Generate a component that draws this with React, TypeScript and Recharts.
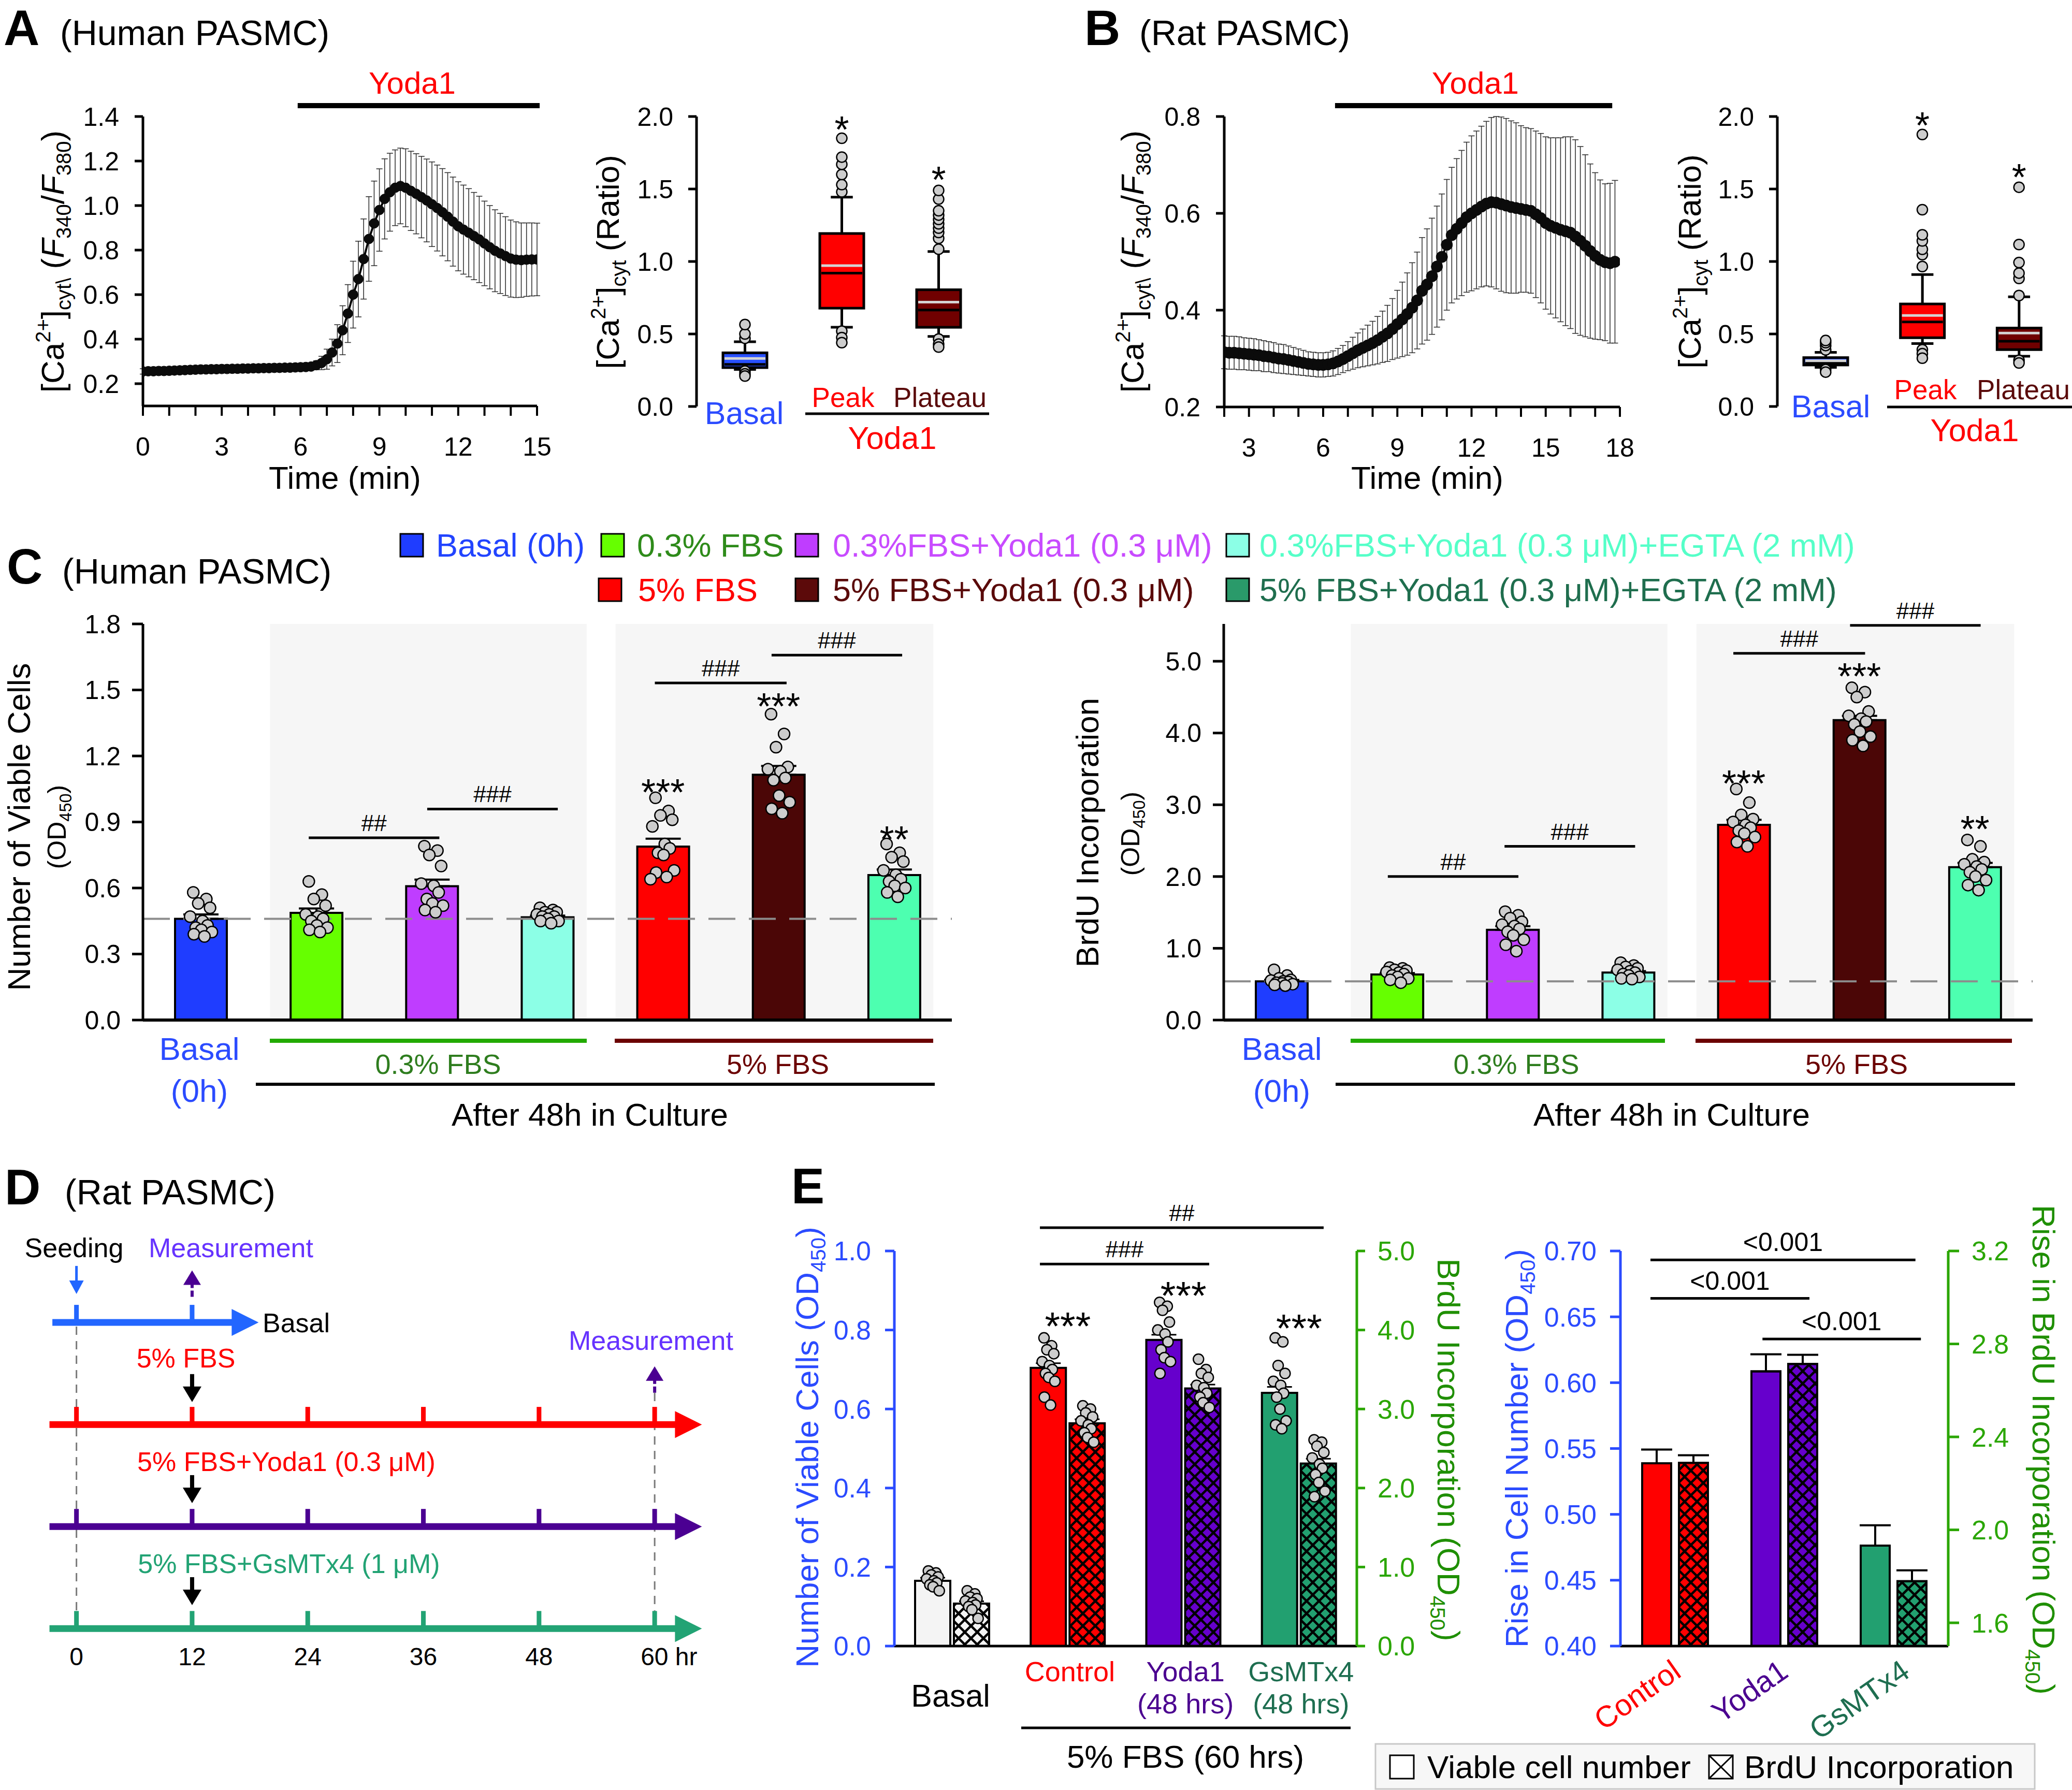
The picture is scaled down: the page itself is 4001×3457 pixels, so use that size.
import React from "react";
import {
  ComposedChart,
  Bar,
  Line,
  Scatter,
  XAxis,
  YAxis,
  ErrorBar,
  Cell,
  ReferenceLine,
  ReferenceArea,
  ReferenceDot,
} from "recharts";

const FONT = "'Liberation Sans', Arial, Helvetica, sans-serif";
const TICK = 50;
const RED = "#ff0000";
const BLUE = "#2b4bff";
const GREEN = "#2aa600";

// ---------------- A / B : Ca2+ traces ----------------
const stepA = 0.2;
const traceA = [
  0.255, 0.256, 0.256, 0.257, 0.257, 0.258, 0.259, 0.26, 0.261, 0.262, 0.263, 0.264, 0.264, 0.265, 0.265, 0.266,
  0.266, 0.267, 0.267, 0.268, 0.268, 0.269, 0.269, 0.27, 0.27, 0.271, 0.271, 0.272, 0.272, 0.273, 0.274, 0.275,
  0.277, 0.283, 0.293, 0.31, 0.34, 0.38, 0.44, 0.515, 0.6, 0.67, 0.76, 0.85, 0.92, 0.98, 1.03, 1.06, 1.08, 1.088,
  1.08, 1.066, 1.053, 1.038, 1.023, 1.006, 0.989, 0.97, 0.95, 0.928, 0.907, 0.892, 0.878, 0.863, 0.848, 0.83,
  0.813, 0.797, 0.785, 0.773, 0.762, 0.757, 0.755, 0.757, 0.758, 0.758,
];
const semA = [
  0.012, 0.012, 0.012, 0.012, 0.012, 0.012, 0.012, 0.012, 0.012, 0.012, 0.012, 0.012, 0.012, 0.012, 0.012, 0.012,
  0.012, 0.012, 0.012, 0.012, 0.012, 0.012, 0.012, 0.012, 0.012, 0.012, 0.012, 0.012, 0.012, 0.012, 0.012, 0.012,
  0.015, 0.02, 0.03, 0.045, 0.06, 0.085, 0.11, 0.13, 0.15, 0.17, 0.18, 0.19, 0.19, 0.185, 0.18, 0.175, 0.17, 0.17,
  0.175, 0.178, 0.18, 0.183, 0.186, 0.19, 0.193, 0.196, 0.198, 0.2, 0.2, 0.2, 0.198, 0.196, 0.194, 0.19, 0.187,
  0.184, 0.18, 0.177, 0.173, 0.17, 0.167, 0.165, 0.164, 0.163,
];
const startB = 2.0;
const stepB = 0.2;
const traceB = [
  0.313, 0.312, 0.312, 0.311, 0.31, 0.309, 0.308, 0.307, 0.305, 0.304,
  0.302, 0.3, 0.299, 0.297, 0.295, 0.293, 0.291, 0.289, 0.288, 0.287,
  0.287, 0.288, 0.29, 0.294, 0.299, 0.305, 0.311, 0.317, 0.322, 0.327,
  0.332, 0.338, 0.345, 0.352, 0.361, 0.371, 0.381, 0.392, 0.405, 0.42,
  0.44, 0.453, 0.47, 0.49, 0.51, 0.535, 0.555, 0.568, 0.58, 0.592,
  0.6, 0.607, 0.614, 0.62, 0.623, 0.622, 0.619, 0.616, 0.613, 0.611,
  0.609, 0.607, 0.605, 0.598, 0.59, 0.58, 0.574, 0.57, 0.566, 0.563,
  0.56, 0.552, 0.543, 0.533, 0.522, 0.512, 0.504, 0.499, 0.497, 0.5,
];
const semB = [
  0.034, 0.034, 0.034, 0.034, 0.033, 0.033, 0.033, 0.032, 0.032, 0.031,
  0.031, 0.03, 0.03, 0.029, 0.028, 0.027, 0.026, 0.025, 0.025, 0.025,
  0.025, 0.025, 0.026, 0.027, 0.028, 0.03, 0.033, 0.036, 0.039, 0.042,
  0.045, 0.049, 0.053, 0.058, 0.063, 0.07, 0.077, 0.085, 0.093, 0.1,
  0.11, 0.115, 0.12, 0.125, 0.13, 0.135, 0.14, 0.145, 0.15, 0.155,
  0.16, 0.163, 0.166, 0.17, 0.175, 0.178, 0.18, 0.18, 0.178, 0.176,
  0.172, 0.17, 0.17, 0.172, 0.175, 0.178, 0.182, 0.186, 0.19, 0.195,
  0.198, 0.2, 0.195, 0.188, 0.18, 0.172, 0.165, 0.162, 0.165, 0.168,
];
const ticksA = [0, 1, 2, 3, 4, 5, 6, 7, 8, 9, 10, 11, 12, 13, 14, 15];
const ticksB = [2, 3, 4, 5, 6, 7, 8, 9, 10, 11, 12, 13, 14, 15, 16, 17, 18];

// ---------------- A / B : box plots ----------------
const boxCats = ["Basal", "Peak", "Plateau"];
const boxColors = ["#2850ff", "#ff0000", "#700000"];
const boxALo = [0.255, 0.546, 0.483];
const boxAQ1 = [0.268, 0.678, 0.546];
const boxAMed = [0.29, 0.92, 0.665];
const boxAMean = [0.331, 0.971, 0.72];
const boxAQ3 = [0.37, 1.193, 0.805];
const boxAHi = [0.446, 1.444, 1.069];
const outA = [
  [0.47, 0.5, 0.565, 0.245, 0.225, 0.21],
  [1.48, 1.53, 1.6, 1.67, 1.72, 1.85, 0.52, 0.475, 0.44],
  [1.085, 1.16, 1.2, 1.23, 1.26, 1.29, 1.32, 1.35, 1.43, 1.49, 0.465, 0.43, 0.41],
];
const starsAIdx = [1, 2];
const starsAVal = [1.968, 1.62];
const boxBLo = [0.27, 0.434, 0.346];
const boxBQ1 = [0.286, 0.474, 0.392];
const boxBMed = [0.3, 0.583, 0.45];
const boxBMean = [0.315, 0.628, 0.506];
const boxBQ3 = [0.337, 0.707, 0.541];
const boxBHi = [0.373, 0.91, 0.756];
const outB = [
  [0.39, 0.42, 0.44, 0.455, 0.255, 0.237],
  [0.965, 1.047, 1.084, 1.142, 1.184, 1.357, 1.876, 0.392, 0.364, 0.333],
  [0.765, 0.883, 0.92, 0.993, 1.117, 1.512, 0.319, 0.3],
];
const starsBIdx = [1, 2];
const starsBVal = [1.995, 1.64];

// ---------------- C : viability / BrdU ----------------
const catsC = [
  "Basal (0h)",
  "0.3% FBS",
  "0.3%FBS+Yoda1 (0.3 μM)",
  "0.3%FBS+Yoda1 (0.3 μM)+EGTA (2 mM)",
  "5% FBS",
  "5% FBS+Yoda1 (0.3 μM)",
  "5% FBS+Yoda1 (0.3 μM)+EGTA (2 mM)",
];
const colorsC = ["#1f3dff", "#66ff00", "#bf3dff", "#8cffe6", "#ff0000", "#4b0606", "#4dffb0"];
const legendSq = ["#1f3dff", "#66ff00", "#bf3dff", "#8cffe6", "#ff0000", "#5c0a0a", "#2a9a6a"];
const legendTx = ["#2244ff", "#2e8b1a", "#c84bff", "#55ffc8", "#ff0000", "#5a0a0a", "#1f6e4e"];
const meansCL = [0.46, 0.487, 0.608, 0.467, 0.788, 1.115, 0.659];
const semCL = [0.02, 0.02, 0.03, 0.008, 0.036, 0.04, 0.025];
const dotsCL = [
  [0.58, 0.55, 0.53, 0.51, 0.47, 0.45, 0.43, 0.42, 0.41, 0.4, 0.39, 0.38],
  [0.63, 0.57, 0.55, 0.52, 0.48, 0.47, 0.46, 0.45, 0.43, 0.42, 0.41, 0.4],
  [0.79, 0.77, 0.75, 0.7, 0.62, 0.61, 0.58, 0.55, 0.53, 0.52, 0.5, 0.49],
  [0.51, 0.5, 0.49, 0.49, 0.48, 0.48, 0.47, 0.47, 0.46, 0.45, 0.45, 0.44],
  [1.01, 0.95, 0.93, 0.91, 0.88, 0.8, 0.78, 0.76, 0.75, 0.68, 0.67, 0.65, 0.64],
  [1.39, 1.3, 1.24, 1.15, 1.14, 1.13, 1.1, 1.09, 1.02, 0.99, 0.96, 0.94],
  [0.8, 0.76, 0.74, 0.72, 0.68, 0.66, 0.64, 0.63, 0.61, 0.6, 0.58, 0.56],
];
const sigCL = [
  { x1: 1.435, x2: 2.565, y: 0.828, t: "##" },
  { x1: 2.46, x2: 3.59, y: 0.959, t: "###" },
  { x1: 4.43, x2: 5.57, y: 1.532, t: "###" },
  { x1: 5.44, x2: 6.57, y: 1.658, t: "###" },
];
const starsCLIdx = [4, 5, 6];
const starsCLVal = [1.073, 1.463, 0.86];
const starsCTxt = ["***", "***", "**"];
const meansCR = [0.54, 0.635, 1.258, 0.662, 2.72, 4.18, 2.13];
const semCR = [0.02, 0.02, 0.05, 0.02, 0.07, 0.06, 0.06];
const dotsCR = [
  [0.7, 0.62, 0.58, 0.56, 0.55, 0.54, 0.53, 0.52, 0.51, 0.5, 0.49, 0.48],
  [0.73, 0.72, 0.7, 0.69, 0.67, 0.66, 0.64, 0.62, 0.6, 0.58, 0.56, 0.52],
  [1.51, 1.46, 1.42, 1.37, 1.33, 1.31, 1.27, 1.23, 1.18, 1.12, 1.05, 0.96],
  [0.8, 0.76, 0.74, 0.72, 0.7, 0.68, 0.66, 0.64, 0.62, 0.6, 0.58, 0.57],
  [3.22, 3.03, 2.86, 2.8, 2.76, 2.72, 2.68, 2.64, 2.6, 2.55, 2.48, 2.42],
  [4.63, 4.57, 4.5, 4.3, 4.24, 4.2, 4.16, 4.12, 4.02, 3.95, 3.9, 3.82],
  [2.51, 2.42, 2.24, 2.2, 2.17, 2.14, 2.1, 2.06, 2.0, 1.95, 1.88, 1.81],
];
const sigCR = [
  { x1: 1.42, x2: 2.55, y: 2.0, t: "##" },
  { x1: 2.43, x2: 3.56, y: 2.42, t: "###" },
  { x1: 4.41, x2: 5.55, y: 5.11, t: "###" },
  { x1: 5.42, x2: 6.55, y: 5.5, t: "###" },
];
const starsCRIdx = [4, 5, 6];
const starsCRVal = [3.41, 4.91, 2.78];

// ---------------- D : protocol timeline ----------------
const dHours = [0, 12, 24, 36, 48, 60];
const dRows = ["Basal", "5% FBS", "5% FBS+Yoda1 (0.3 μM)", "5% FBS+GsMTx4 (1 μM)"];
const dColors = ["#2266ff", "#ff0000", "#4b0092", "#22a374"];
const dLevel = [4, 3, 2, 1];
const dStart = [-2.5, -2.8, -2.8, -2.8];
const dEnd = [18.15, 64.15, 64.15, 64.15];
const dTicks = [[0, 12], dHours, dHours, dHours];
const dDashT = [0, 60];
const dDashTop = [3.96, 3.31];
const dTreatLevel = [3.22, 2.23, 1.23];
const dSeed = { t: 0, y: 4.28 };
const dMeasT = [12, 60];
const dMeasY = [4.51, 3.57];

// ---------------- E : 5% FBS 60 hrs ----------------
const eCats = ["Basal", "Control", "Yoda1", "GsMTx4"];
const eFill = ["#f4f4f4", "#ff0000", "#6600cc", "#22a070"];
const eViable = [0.165, 0.704, 0.775, 0.641];
const eViableSem = [0.008, 0.012, 0.013, 0.015];
const eBrdU = [0.537, 2.82, 3.26, 2.31];
const eBrdUSem = [0.03, 0.05, 0.05, 0.06];
const eDotsV = [
  [0.19, 0.185, 0.18, 0.175, 0.17, 0.165, 0.16, 0.155, 0.15, 0.14],
  [0.78, 0.76, 0.75, 0.74, 0.72, 0.71, 0.7, 0.69, 0.68, 0.67, 0.63, 0.61],
  [0.87, 0.86, 0.85, 0.82, 0.8, 0.79, 0.77, 0.75, 0.73, 0.72, 0.69],
  [0.78, 0.77, 0.71, 0.69, 0.67, 0.66, 0.64, 0.63, 0.6, 0.57, 0.56, 0.55],
];
const eDotsB = [
  [0.7, 0.66, 0.62, 0.6, 0.57, 0.55, 0.52, 0.5, 0.46, 0.35],
  [3.04, 3.0, 2.95, 2.9, 2.85, 2.8, 2.75, 2.7, 2.64, 2.58],
  [3.63, 3.5, 3.45, 3.4, 3.3, 3.27, 3.2, 3.15, 3.08, 3.02],
  [2.61, 2.58, 2.53, 2.45, 2.38, 2.3, 2.25, 2.17, 2.07, 1.96, 1.89],
];
const sigE = [
  { x1: 1.259, x2: 3.713, y: 1.059, t: "##" },
  { x1: 1.259, x2: 2.723, y: 0.967, t: "###" },
];
const starsEIdx = [1, 2, 3];
const starsEVal = [0.834, 0.911, 0.828];
const riseCats = ["Control", "Yoda1", "GsMTx4"];
const riseColors = ["#ff0000", "#6600cc", "#22a070"];
const riseTxt = ["#ff0000", "#4b0090", "#1e6e50"];
const riseViable = [0.5388, 0.6086, 0.4763];
const riseViableSem = [0.0104, 0.013, 0.0154];
const riseBrdU = [2.288, 2.714, 1.779];
const riseBrdUSem = [0.033, 0.039, 0.047];
const sigRise = [
  { x1: 0.275, x2: 2.7, y: 0.6932, t: "<0.001" },
  { x1: 0.275, x2: 1.73, y: 0.664, t: "<0.001" },
  { x1: 1.3, x2: 2.75, y: 0.6332, t: "<0.001" },
];

// ---------------- helpers ----------------
type Frame = { l: number; t: number; r: number; b: number; yw?: number; yrw?: number; xh?: number; pad?: number };
const place = ({ l, t, r, b, yw = 0, yrw = 0, xh = 0, pad = 90 }: Frame) => ({
  style: { position: "absolute" as const, left: l - yw - pad, top: t - pad },
  width: r - l + yw + yrw + 2 * pad,
  height: b - t + xh + 2 * pad,
  margin: { top: pad, right: pad, bottom: pad, left: pad },
});

const JIT = [-0.6, 0.45, -0.2, 0.75, -0.85, 0.15, 0.55, -0.4, 0.05, 0.9, -0.55, 0.3, -1];

const dotShape = (dx: number, spread: number, r: number) => (p: any) => (
  <circle
    cx={p.cx + dx + JIT[(p.payload?.j ?? 0) % JIT.length] * spread}
    cy={p.cy}
    r={r}
    fill="#cdcdcd"
    stroke="#000"
    strokeWidth={2.5}
  />
);

const lab = (s: string, size: number, dy: number, fill = "#000") => (p: any) => (
  <text x={p.cx} y={p.cy + dy} textAnchor="middle" fontSize={size} fill={fill} fontFamily={FONT}>
    {s}
  </text>
);

const yAx = (color: string, size: number, margin: number, font = TICK) => ({
  type: "number" as const,
  axisLine: { stroke: color, strokeWidth: 5 },
  tickLine: { stroke: color, strokeWidth: 5 },
  tick: { fontSize: font, fill: color, fontFamily: FONT },
  tickSize: size,
  tickMargin: margin,
  interval: 0 as const,
  allowDataOverflow: true,
});

const HatchDefs = () => (
  <svg width={0} height={0} style={{ position: "absolute" }}>
    <defs>
      {eFill.map((c, i) => (
        <pattern key={i} id={`hatch${i}`} patternUnits="userSpaceOnUse" width={24} height={24}>
          <rect width={24} height={24} fill={c} />
          <path d="M-6,-6 L30,30 M30,-6 L-6,30" stroke="#000" strokeWidth={4.5} />
        </pattern>
      ))}
    </defs>
  </svg>
);

// significance bracket: horizontal segment plus its label
// (an empty scatter of the bracket mid points keeps the hidden numeric axis registered)
const sigEls = (sigs: any[], yid: any, size: number, dy: number, lw = 5) => [
  <Scatter
    key="sigmid"
    xAxisId="n"
    yAxisId={yid}
    data={sigs.map((s) => ({ xn: (s.x1 + s.x2) / 2, v: s.y }))}
    dataKey="v"
    isAnimationActive={false}
    shape={() => <g />}
  />,
  ...sigs.map((s, i) => (
    <ReferenceLine
      key={`l${i}`}
      xAxisId="n"
      yAxisId={yid}
      segment={[
        { x: s.x1, y: s.y },
        { x: s.x2, y: s.y },
      ]}
      stroke="#000"
      strokeWidth={lw}
      ifOverflow="visible"
    />
  )),
  ...sigs.map((s, i) => (
    <ReferenceDot
      key={`d${i}`}
      xAxisId="n"
      yAxisId={yid}
      x={(s.x1 + s.x2) / 2}
      y={s.y}
      ifOverflow="visible"
      shape={lab(s.t, size, dy)}
    />
  )),
];

// ---------------- charts ----------------
function Trace({ values, sems, start, step, frame, xDomain, xTicks, yDomain, yTicks, bar, r }: any) {
  const f = place(frame);
  const data = values.map((v: number, i: number) => ({ t: +(start + i * step).toFixed(2), v, e: sems[i] }));
  return (
    <div style={f.style}>
      <ComposedChart width={f.width} height={f.height} margin={f.margin} data={data}>
        <XAxis
          dataKey="t"
          type="number"
          domain={xDomain}
          ticks={xTicks}
          interval={0}
          allowDataOverflow
          height={frame.xh}
          tickFormatter={(v: number) => (v % 3 === 0 ? String(v) : "")}
          tick={{ fontSize: TICK, fill: "#000", fontFamily: FONT }}
          tickSize={19}
          tickMargin={41}
          axisLine={{ stroke: "#000", strokeWidth: 5 }}
          tickLine={{ stroke: "#000", strokeWidth: 4 }}
        />
        <YAxis
          {...yAx("#000", 16, 30)}
          domain={yDomain}
          ticks={yTicks}
          width={frame.yw}
          tickFormatter={(v: number) => v.toFixed(1)}
        />
        <ReferenceLine
          segment={[
            { x: bar.x1, y: bar.y },
            { x: bar.x2, y: bar.y },
          ]}
          stroke="#000"
          strokeWidth={10}
          ifOverflow="visible"
        />
        <Line
          type="linear"
          dataKey="v"
          stroke="#000"
          strokeWidth={4}
          dot={{ r, fill: "#0b0b0b", stroke: "#0b0b0b", strokeWidth: 1 }}
          isAnimationActive={false}
        >
          <ErrorBar dataKey="e" width={6} strokeWidth={1.6} stroke="#333" direction="y" />
        </Line>
      </ComposedChart>
    </div>
  );
}

const BoxShape = (p: any) => {
  const { x, y, width, height, payload, fill } = p;
  const [q1, q3] = payload.box;
  const k = height / (q3 - q1);
  const py = (v: number) => y + (q3 - v) * k;
  const cx = x + width / 2;
  const cw = width * 0.5;
  return (
    <g>
      <line x1={cx} x2={cx} y1={py(payload.hi)} y2={py(payload.lo)} stroke="#000" strokeWidth={5} />
      <line x1={cx - cw / 2} x2={cx + cw / 2} y1={py(payload.hi)} y2={py(payload.hi)} stroke="#000" strokeWidth={5} />
      <line x1={cx - cw / 2} x2={cx + cw / 2} y1={py(payload.lo)} y2={py(payload.lo)} stroke="#000" strokeWidth={5} />
      <rect x={x} y={y} width={width} height={height} fill={fill} stroke="#000" strokeWidth={5} />
      <line x1={x + 3} x2={x + width - 3} y1={py(payload.med)} y2={py(payload.med)} stroke="#000" strokeWidth={5} />
      <line x1={x + 3} x2={x + width - 3} y1={py(payload.mean)} y2={py(payload.mean)} stroke="#d4d4d4" strokeWidth={5} />
    </g>
  );
};

function BoxPlot({ frame, lo, q1, med, mean, q3, hi, outliers, starIdx, starVal }: any) {
  const f = place(frame);
  const data = boxCats.map((name, i) => ({ name, box: [q1[i], q3[i]], lo: lo[i], med: med[i], mean: mean[i], hi: hi[i] }));
  const pts = outliers.flatMap((arr: number[], i: number) => arr.map((v, j) => ({ xn: i + 0.5, v, j })));
  return (
    <div style={f.style}>
      <ComposedChart width={f.width} height={f.height} margin={f.margin} data={data}>
        <XAxis xAxisId="c" dataKey="name" type="category" hide />
        <XAxis xAxisId="n" dataKey="xn" type="number" domain={[0, 3]} hide />
        <YAxis
          {...yAx("#000", 16, 29)}
          domain={[0, 2]}
          ticks={[0, 0.5, 1, 1.5, 2]}
          width={frame.yw}
          tickFormatter={(v: number) => v.toFixed(1)}
        />
        <Bar xAxisId="c" dataKey="box" barSize={85} shape={(p: any) => <BoxShape {...p} />} isAnimationActive={false}>
          {boxColors.map((c, i) => (
            <Cell key={i} fill={c} />
          ))}
        </Bar>
        <Scatter xAxisId="n" data={pts} dataKey="v" shape={dotShape(0, 0, 10)} isAnimationActive={false} />
        {starIdx.map((c: number, i: number) => (
          <ReferenceDot key={i} xAxisId="n" x={c + 0.5} y={starVal[i]} ifOverflow="visible" shape={lab("*", 72, 41)} />
        ))}
      </ComposedChart>
    </div>
  );
}

function BarPanel({ frame, means, sems, dots, yDomain, yTicks, sigs, starIdx, starVal }: any) {
  const f = place(frame);
  const data = catsC.map((name, i) => ({ name, m: means[i], e: [0, sems[i]] }));
  const pts = dots.flatMap((arr: number[], i: number) => arr.map((v, j) => ({ xn: i + 0.5, v, j })));
  return (
    <div style={f.style}>
      <ComposedChart width={f.width} height={f.height} margin={f.margin} data={data}>
        <XAxis
          xAxisId="c"
          dataKey="name"
          type="category"
          height={frame.xh}
          tick={false}
          tickLine={false}
          axisLine={{ stroke: "#000", strokeWidth: 6 }}
        />
        <XAxis xAxisId="n" dataKey="xn" type="number" domain={[0, 7]} hide />
        <YAxis
          {...yAx("#000", 21, 22)}
          domain={yDomain}
          ticks={yTicks}
          width={frame.yw}
          tickFormatter={(v: number) => v.toFixed(1)}
        />
        <ReferenceArea xAxisId="n" x1={1.1} x2={3.84} y1={0} y2={yDomain[1]} fill="#f6f6f6" fillOpacity={1} stroke="none" ifOverflow="visible" />
        <ReferenceArea xAxisId="n" x1={4.09} x2={6.84} y1={0} y2={yDomain[1]} fill="#f6f6f6" fillOpacity={1} stroke="none" ifOverflow="visible" />
        <Bar xAxisId="c" dataKey="m" barSize={100} stroke="#000" strokeWidth={4} isAnimationActive={false}>
          {colorsC.map((c, i) => (
            <Cell key={i} fill={c} />
          ))}
          <ErrorBar dataKey="e" width={34} strokeWidth={4} stroke="#000" direction="y" />
        </Bar>
        <ReferenceLine xAxisId="n" y={means[0]} stroke="#8c8c8c" strokeWidth={4} strokeDasharray="52 26" />
        <Scatter xAxisId="n" data={pts} dataKey="v" shape={dotShape(0, 24, 11)} isAnimationActive={false} />
        {sigEls(sigs, 0, 44, -13)}
        {starIdx.map((c: number, i: number) => (
          <ReferenceDot key={i} xAxisId="n" x={c + 0.5} y={starVal[i]} ifOverflow="visible" shape={lab(starsCTxt[i], 72, 41)} />
        ))}
      </ComposedChart>
    </div>
  );
}

const DTick = (p: any) => {
  const v = p.payload.value;
  if (v === 60)
    return (
      <text x={p.x - 27} y={p.y + 34} fontSize={48} textAnchor="start" dominantBaseline="central" fill="#000">
        60 hr
      </text>
    );
  return (
    <text x={p.x} y={p.y + 34} fontSize={48} textAnchor="middle" dominantBaseline="central" fill="#000">
      {v}
    </text>
  );
};

const rowHead = (color: string) => (p: any) => (
  <polygon points={`${p.cx - 38},${p.cy - 26} ${p.cx + 14},${p.cy} ${p.cx - 38},${p.cy + 26}`} fill={color} />
);
const tickMark = (color: string) => (p: any) => <rect x={p.cx - 4.5} y={p.cy - 34} width={9} height={34} fill={color} />;
const downArrow = (color: string, shaftW: number, headL: number, headHW: number, total: number) => (p: any) => (
  <g>
    <rect x={p.cx - shaftW / 2} y={p.cy - total} width={shaftW} height={total - headL + 1} fill={color} />
    <polygon points={`${p.cx - headHW},${p.cy - headL} ${p.cx + headHW},${p.cy - headL} ${p.cx},${p.cy}`} fill={color} />
  </g>
);
const upArrow = (color: string) => (p: any) => (
  <g>
    <line x1={p.cx} x2={p.cx} y1={p.cy + 22} y2={p.cy + 54} stroke={color} strokeWidth={6} strokeDasharray="12 5" />
    <polygon points={`${p.cx - 17},${p.cy + 28} ${p.cx + 17},${p.cy + 28} ${p.cx},${p.cy}`} fill={color} />
  </g>
);

function Timeline() {
  const frame = { l: 36, t: 2357, r: 1413, b: 3165, xh: 80, pad: 60 };
  const f = place(frame);
  return (
    <div style={f.style}>
      <ComposedChart width={f.width} height={f.height} margin={f.margin}>
        <XAxis
          dataKey="t"
          type="number"
          domain={[-6, 68]}
          ticks={dHours}
          interval={0}
          height={80}
          axisLine={false}
          tickLine={false}
          tickSize={0}
          tickMargin={0}
          tick={DTick}
          allowDataOverflow
        />
        <YAxis type="number" domain={[0.9, 5]} hide allowDataOverflow />
        {dDashT.map((t, i) => (
          <ReferenceLine
            key={`dash${i}`}
            segment={[
              { x: t, y: dDashTop[i] },
              { x: t, y: 1 },
            ]}
            stroke="#7a7a7a"
            strokeWidth={3}
            strokeDasharray="16 12"
            ifOverflow="visible"
          />
        ))}
        {dRows.map((r, i) => (
          <ReferenceLine
            key={`row${i}`}
            segment={[
              { x: dStart[i], y: dLevel[i] },
              { x: dEnd[i], y: dLevel[i] },
            ]}
            stroke={dColors[i]}
            strokeWidth={13}
            ifOverflow="visible"
          />
        ))}
        {dRows.map((r, i) => (
          <Scatter
            key={`tk${i}`}
            data={dTicks[i].map((t) => ({ t, y: dLevel[i] }))}
            dataKey="y"
            shape={tickMark(dColors[i])}
            isAnimationActive={false}
          />
        ))}
        {dRows.map((r, i) => (
          <ReferenceDot key={`hd${i}`} x={dEnd[i]} y={dLevel[i]} ifOverflow="visible" shape={rowHead(dColors[i])} />
        ))}
        <ReferenceDot x={dSeed.t} y={dSeed.y} ifOverflow="visible" shape={downArrow("#2266ff", 5, 26, 14, 54)} />
        {dMeasT.map((t, i) => (
          <ReferenceDot key={`m${i}`} x={t} y={dMeasY[i]} ifOverflow="visible" shape={upArrow("#4b0092")} />
        ))}
        {dTreatLevel.map((y, i) => (
          <ReferenceDot key={`tr${i}`} x={12} y={y} ifOverflow="visible" shape={downArrow("#000", 8, 30, 18, 54)} />
        ))}
      </ComposedChart>
    </div>
  );
}

const eSub = ["", "", "(48 hrs)", "(48 hrs)"];
const eTxt = ["#000", "#ff0000", "#4b0090", "#1e6e50"];
const ETickL = (p: any) => {
  const i = p.index;
  if (i === 0)
    return (
      <text x={p.x - 3} y={p.y + 96} fontSize={61} textAnchor="middle" dominantBaseline="central" fill="#000">
        {p.payload.value}
      </text>
    );
  return (
    <g>
      <text x={p.x + 4} y={p.y + 49} fontSize={54} textAnchor="middle" dominantBaseline="central" fill={eTxt[i]}>
        {p.payload.value}
      </text>
      {eSub[i] && (
        <text x={p.x + 4} y={p.y + 111} fontSize={54} textAnchor="middle" dominantBaseline="central" fill={eTxt[i]}>
          {eSub[i]}
        </text>
      )}
    </g>
  );
};

function ECells() {
  const frame = { l: 1727, t: 2416, r: 2620, b: 3179, yw: 120, yrw: 120, xh: 20, pad: 200 };
  const f = place(frame);
  const data = eCats.map((name, i) => ({
    name,
    via: eViable[i],
    viaE: [0, eViableSem[i]],
    brdu: eBrdU[i],
    brduE: [0, eBrdUSem[i]],
  }));
  const ptsV = eDotsV.flatMap((arr, i) => arr.map((v, j) => ({ xn: i + 0.5, v, j })));
  const ptsB = eDotsB.flatMap((arr, i) => arr.map((v, j) => ({ xn: i + 0.5, v, j })));
  return (
    <div style={f.style}>
      <ComposedChart width={f.width} height={f.height} margin={f.margin} data={data} barGap={7}>
        <XAxis
          xAxisId="c"
          dataKey="name"
          type="category"
          height={20}
          interval={0}
          axisLine={{ stroke: "#000", strokeWidth: 5 }}
          tickLine={false}
          tickSize={0}
          tickMargin={0}
          tick={ETickL}
        />
        <XAxis xAxisId="n" dataKey="xn" type="number" domain={[0, 4]} hide />
        <YAxis
          yAxisId="l"
          {...yAx(BLUE, 18, 27, 52)}
          domain={[0, 1]}
          ticks={[0, 0.2, 0.4, 0.6, 0.8, 1]}
          width={120}
          tickFormatter={(v: number) => v.toFixed(1)}
        />
        <YAxis
          yAxisId="r"
          orientation="right"
          {...yAx(GREEN, 16, 24, 52)}
          domain={[0, 5]}
          ticks={[0, 1, 2, 3, 4, 5]}
          width={120}
          tickFormatter={(v: number) => v.toFixed(1)}
        />
        <Bar xAxisId="c" yAxisId="l" dataKey="via" barSize={68} stroke="#000" strokeWidth={4} isAnimationActive={false}>
          {eFill.map((c, i) => (
            <Cell key={i} fill={c} />
          ))}
          <ErrorBar dataKey="viaE" width={24} strokeWidth={3} stroke="#000" direction="y" />
        </Bar>
        <Bar xAxisId="c" yAxisId="r" dataKey="brdu" barSize={68} stroke="#000" strokeWidth={4} isAnimationActive={false}>
          {eFill.map((c, i) => (
            <Cell key={i} fill={`url(#hatch${i})`} />
          ))}
          <ErrorBar dataKey="brduE" width={24} strokeWidth={3} stroke="#000" direction="y" />
        </Bar>
        <Scatter xAxisId="n" yAxisId="l" data={ptsV} dataKey="v" shape={dotShape(-37.5, 14, 10)} isAnimationActive={false} />
        <Scatter xAxisId="n" yAxisId="r" data={ptsB} dataKey="v" shape={dotShape(37.5, 14, 10)} isAnimationActive={false} />
        {sigEls(sigE, "l", 44, -13)}
        {starsEIdx.map((c, i) => (
          <ReferenceDot key={i} xAxisId="n" yAxisId="l" x={c + 0.5} y={starsEVal[i]} ifOverflow="visible" shape={lab("***", 76, 44)} />
        ))}
      </ComposedChart>
    </div>
  );
}

const riseDx = [15, 11, 35];
const ETickR = (p: any) => {
  const i = p.index;
  const x = p.x + riseDx[i];
  const y = p.y + 57;
  return (
    <text x={x} y={y} transform={`rotate(-35 ${x} ${y})`} textAnchor="end" fontSize={58} fill={riseTxt[i]}>
      {p.payload.value}
    </text>
  );
};

function ERise() {
  const frame = { l: 3129, t: 2416, r: 3762, b: 3179, yw: 120, yrw: 120, xh: 20, pad: 200 };
  const f = place(frame);
  const data = riseCats.map((name, i) => ({
    name,
    via: riseViable[i],
    viaE: [0, riseViableSem[i]],
    brdu: riseBrdU[i],
    brduE: [0, riseBrdUSem[i]],
  }));
  return (
    <div style={f.style}>
      <ComposedChart width={f.width} height={f.height} margin={f.margin} data={data} barGap={15}>
        <XAxis
          xAxisId="c"
          dataKey="name"
          type="category"
          height={20}
          interval={0}
          axisLine={{ stroke: "#000", strokeWidth: 5 }}
          tickLine={false}
          tickSize={0}
          tickMargin={0}
          tick={ETickR}
        />
        <XAxis xAxisId="n" dataKey="xn" type="number" domain={[0, 3]} hide />
        <YAxis
          yAxisId="l"
          {...yAx(BLUE, 20, 26, 52)}
          domain={[0.4, 0.7]}
          ticks={[0.4, 0.45, 0.5, 0.55, 0.6, 0.65, 0.7]}
          width={120}
          tickFormatter={(v: number) => v.toFixed(2)}
        />
        <YAxis
          yAxisId="r"
          orientation="right"
          {...yAx(GREEN, 21, 24, 52)}
          domain={[1.5, 3.2]}
          ticks={[1.6, 2.0, 2.4, 2.8, 3.2]}
          width={120}
          tickFormatter={(v: number) => v.toFixed(1)}
        />
        <Bar xAxisId="c" yAxisId="l" dataKey="via" barSize={56} stroke="#000" strokeWidth={4} isAnimationActive={false}>
          {riseColors.map((c, i) => (
            <Cell key={i} fill={c} />
          ))}
          <ErrorBar dataKey="viaE" width={30} strokeWidth={4} stroke="#000" direction="y" />
        </Bar>
        <Bar xAxisId="c" yAxisId="r" dataKey="brdu" barSize={56} stroke="#000" strokeWidth={4} isAnimationActive={false}>
          {riseColors.map((c, i) => (
            <Cell key={i} fill={`url(#hatch${i + 1})`} />
          ))}
          <ErrorBar dataKey="brduE" width={30} strokeWidth={4} stroke="#000" direction="y" />
        </Bar>
        {sigEls(sigRise, "l", 50, -17)}
      </ComposedChart>
    </div>
  );
}

// ---------------- text overlay ----------------
const CT = (p: any) => <text textAnchor="middle" dominantBaseline="central" fontFamily={FONT} {...p} />;

const OD = ({ s }: { s: number }) => (
  <>
    <tspan>(OD</tspan>
    <tspan dy={s * 0.22} fontSize={s * 0.65}>
      450
    </tspan>
    <tspan dy={-s * 0.22}>)</tspan>
  </>
);

const CaLabel = ({ x, y, ratio }: any) => (
  <text x={x} y={y} transform={`rotate(-90 ${x} ${y})`} textAnchor="middle" fontSize={62} fontFamily={FONT}>
    <tspan>[Ca</tspan>
    <tspan dy={-26} fontSize={40}>
      2+
    </tspan>
    <tspan dy={26}>]</tspan>
    <tspan dy={14} fontSize={40}>
      {ratio ? "cyt" : "cyt\\"}
    </tspan>
    {ratio ? (
      <tspan dy={-14}> (Ratio)</tspan>
    ) : (
      <>
        <tspan dy={-14}> (</tspan>
        <tspan fontStyle="italic">F</tspan>
        <tspan dy={14} fontSize={40}>
          340
        </tspan>
        <tspan dy={-14}>/</tspan>
        <tspan fontStyle="italic">F</tspan>
        <tspan dy={14} fontSize={40}>
          380
        </tspan>
        <tspan dy={-14}>)</tspan>
      </>
    )}
  </text>
);

const legendPos = [
  [773, 842, 1053],
  [1161, 1230, 1053],
  [1536, 1608, 1053],
  [2368, 2432, 1053],
  [1156, 1232, 1139],
  [1536, 1608, 1139],
  [2368, 2432, 1139],
];

const Overlay = () => (
  <svg width={4001} height={3457} style={{ position: "absolute", left: 0, top: 0, pointerEvents: "none" }} fontFamily={FONT}>
    {/* panel titles */}
    <text x={7} y={87} fontSize={96} fontWeight={700}>A</text>
    <text x={116} y={87} fontSize={68}>(Human PASMC)</text>
    <text x={2094} y={87} fontSize={96} fontWeight={700}>B</text>
    <text x={2200} y={87} fontSize={68}>(Rat PASMC)</text>
    <text x={13} y={1127} fontSize={96} fontWeight={700}>C</text>
    <text x={120} y={1127} fontSize={68}>(Human PASMC)</text>
    <text x={9} y={2326} fontSize={96} fontWeight={700}>D</text>
    <text x={125} y={2326} fontSize={68}>(Rat PASMC)</text>
    <text x={1528} y={2324} fontSize={96} fontWeight={700}>E</text>

    {/* A / B */}
    <CT x={796} y={160} fontSize={60} fill={RED}>Yoda1</CT>
    <CT x={2849} y={160} fontSize={60} fill={RED}>Yoda1</CT>
    <CT x={666} y={922} fontSize={62}>Time (min)</CT>
    <CT x={2756} y={922} fontSize={62}>Time (min)</CT>
    <CaLabel x={123} y={505} />
    <CaLabel x={2208} y={505} />
    <CaLabel x={1195} y={506} ratio />
    <CaLabel x={3284} y={505} ratio />
    <CT x={1437} y={798} fontSize={61} fill={BLUE}>Basal</CT>
    <CT x={1628} y={767} fontSize={53} fill={RED}>Peak</CT>
    <CT x={1815} y={767} fontSize={53} fill="#5a0a0a">Plateau</CT>
    <line x1={1555} x2={1910} y1={799} y2={799} stroke="#000" strokeWidth={5} />
    <CT x={1723} y={846} fontSize={61} fill={RED}>Yoda1</CT>
    <CT x={3535} y={785} fontSize={61} fill={BLUE}>Basal</CT>
    <CT x={3718} y={752} fontSize={53} fill={RED}>Peak</CT>
    <CT x={3907} y={752} fontSize={53} fill="#5a0a0a">Plateau</CT>
    <line x1={3644} x2={4001} y1={786} y2={786} stroke="#000" strokeWidth={5} />
    <CT x={3813} y={831} fontSize={61} fill={RED}>Yoda1</CT>

    {/* C legend */}
    {catsC.map((c, i) => (
      <g key={c}>
        <rect x={legendPos[i][0]} y={legendPos[i][2] - 22} width={44} height={44} fill={legendSq[i]} stroke="#000" strokeWidth={3} />
        <text x={legendPos[i][1]} y={legendPos[i][2]} fontSize={63} fill={legendTx[i]} dominantBaseline="central">
          {c}
        </text>
      </g>
    ))}

    {/* C axis titles */}
    <text x={58} y={1597} transform="rotate(-90 58 1597)" textAnchor="middle" fontSize={62}>Number of Viable Cells</text>
    <text x={127} y={1597} transform="rotate(-90 127 1597)" textAnchor="middle" fontSize={50}><OD s={50} /></text>
    <text x={2121} y={1608} transform="rotate(-90 2121 1608)" textAnchor="middle" fontSize={62}>BrdU Incorporation</text>
    <text x={2200} y={1610} transform="rotate(-90 2200 1610)" textAnchor="middle" fontSize={50}><OD s={50} /></text>

    {/* C group labels */}
    {[0, 2087].map((o, k) => (
      <g key={k}>
        <CT x={385 + o + (k ? 3 : 0)} y={2025} fontSize={62} fill={BLUE}>Basal</CT>
        <CT x={385 + o + (k ? 3 : 0)} y={2106} fontSize={62} fill={BLUE}>(0h)</CT>
        <line x1={521 + o} x2={1133 + o - (k ? 5 : 0)} y1={2010} y2={2010} stroke="#22aa00" strokeWidth={8} />
        <line x1={1187 + o} x2={1802 + o - (k ? 4 : 0)} y1={2010} y2={2010} stroke="#6b0000" strokeWidth={8} />
        <line x1={494 + o - (k ? 2 : 0)} x2={1805 + o - (k ? 1 : 0)} y1={2094} y2={2094} stroke="#000" strokeWidth={6} />
        <CT x={846 + o - (k ? 5 : 0)} y={2055} fontSize={54} fill="#2e7d1e">0.3% FBS</CT>
        <CT x={1502 + o - (k ? 4 : 0)} y={2055} fontSize={54} fill="#6b0000">5% FBS</CT>
        <CT x={1139 + o + (k ? 2 : 0)} y={2152} fontSize={62}>After 48h in Culture</CT>
      </g>
    ))}

    {/* D labels */}
    <CT x={143} y={2410} fontSize={52}>Seeding</CT>
    <CT x={446} y={2410} fontSize={52} fill="#6633ff">Measurement</CT>
    <text x={507} y={2555} fontSize={52} dominantBaseline="central">{dRows[0]}</text>
    <CT x={359} y={2623} fontSize={52} fill={dColors[1]}>{dRows[1]}</CT>
    <CT x={1257} y={2589} fontSize={52} fill="#6633ff">Measurement</CT>
    <CT x={553} y={2823} fontSize={52} fill={dColors[1]}>{dRows[2]}</CT>
    <CT x={558} y={3020} fontSize={52} fill={dColors[3]}>{dRows[3]}</CT>

    {/* E axis titles */}
    <text x={1580} y={2795} transform="rotate(-90 1580 2795)" textAnchor="middle" fontSize={62} fill={BLUE}>
      <tspan>Number of Viable Cells </tspan>
      <OD s={62} />
    </text>
    <text x={2776} y={2800} transform="rotate(90 2776 2800)" textAnchor="middle" fontSize={62} fill="#1f8f00">
      <tspan>BrdU Incorporation </tspan>
      <OD s={62} />
    </text>
    <text x={2950} y={2797} transform="rotate(-90 2950 2797)" textAnchor="middle" fontSize={62} fill={BLUE}>
      <tspan>Rise in Cell Number </tspan>
      <OD s={62} />
    </text>
    <text x={3925} y={2800} transform="rotate(90 3925 2800)" textAnchor="middle" fontSize={62} fill="#1f8f00">
      <tspan>Rise in BrdU Incorporation </tspan>
      <OD s={62} />
    </text>
    <line x1={1972} x2={2608} y1={3337} y2={3337} stroke="#000" strokeWidth={5} />
    <CT x={2289} y={3392} fontSize={62}>5% FBS (60 hrs)</CT>

    {/* E legend */}
    <rect x={2656} y={3368} width={1273} height={87} fill="#f7f7f7" stroke="#c8c8c8" strokeWidth={3} />
    <rect x={2684} y={3390} width={46} height={45} fill="#fff" stroke="#000" strokeWidth={3} />
    <text x={2756} y={3412} fontSize={62} dominantBaseline="central">Viable cell number</text>
    <rect x={3300} y={3390} width={46} height={45} fill="#fff" stroke="#000" strokeWidth={3} />
    <path d="M3300,3390 L3346,3435 M3346,3390 L3300,3435" stroke="#000" strokeWidth={3} />
    <text x={3368} y={3412} fontSize={62} dominantBaseline="central">BrdU Incorporation</text>
  </svg>
);

export default function App() {
  return (
    <div
      style={{
        position: "absolute",
        left: 0,
        top: 0,
        width: 4001,
        height: 3457,
        background: "#fff",
        fontFamily: FONT,
        overflow: "hidden",
      }}
    >
      <HatchDefs />
      <Trace
        values={traceA}
        sems={semA}
        start={0}
        step={stepA}
        r={9.5}
        frame={{ l: 276, t: 225, r: 1037, b: 784, yw: 120, xh: 130 }}
        xDomain={[0, 15]}
        xTicks={ticksA}
        yDomain={[0.1, 1.4]}
        yTicks={[0.2, 0.4, 0.6, 0.8, 1.0, 1.2, 1.4]}
        bar={{ x1: 5.89, x2: 15.1, y: 1.449 }}
      />
      <BoxPlot
        frame={{ l: 1345, t: 225, r: 1906, b: 785, yw: 120 }}
        lo={boxALo}
        q1={boxAQ1}
        med={boxAMed}
        mean={boxAMean}
        q3={boxAQ3}
        hi={boxAHi}
        outliers={outA}
        starIdx={starsAIdx}
        starVal={starsAVal}
      />
      <Trace
        values={traceB}
        sems={semB}
        start={startB}
        step={stepB}
        r={11}
        frame={{ l: 2364, t: 225, r: 3128, b: 786, yw: 120, xh: 130 }}
        xDomain={[2, 18]}
        xTicks={ticksB}
        yDomain={[0.2, 0.8]}
        yTicks={[0.2, 0.4, 0.6, 0.8]}
        bar={{ x1: 6.48, x2: 17.69, y: 0.8225 }}
      />
      <BoxPlot
        frame={{ l: 3432, t: 225, r: 3992, b: 785, yw: 120 }}
        lo={boxBLo}
        q1={boxBQ1}
        med={boxBMed}
        mean={boxBMean}
        q3={boxBQ3}
        hi={boxBHi}
        outliers={outB}
        starIdx={starsBIdx}
        starVal={starsBVal}
      />
      <BarPanel
        frame={{ l: 276, t: 1205, r: 1838, b: 1970, yw: 120, xh: 10 }}
        means={meansCL}
        sems={semCL}
        dots={dotsCL}
        yDomain={[0, 1.8]}
        yTicks={[0, 0.3, 0.6, 0.9, 1.2, 1.5, 1.8]}
        sigs={sigCL}
        starIdx={starsCLIdx}
        starVal={starsCLVal}
      />
      <BarPanel
        frame={{ l: 2363, t: 1205, r: 3925, b: 1970, yw: 120, xh: 10 }}
        means={meansCR}
        sems={semCR}
        dots={dotsCR}
        yDomain={[0, 5.52]}
        yTicks={[0, 1, 2, 3, 4, 5]}
        sigs={sigCR}
        starIdx={starsCRIdx}
        starVal={starsCRVal}
      />
      <Timeline />
      <ECells />
      <ERise />
      <Overlay />
    </div>
  );
}
